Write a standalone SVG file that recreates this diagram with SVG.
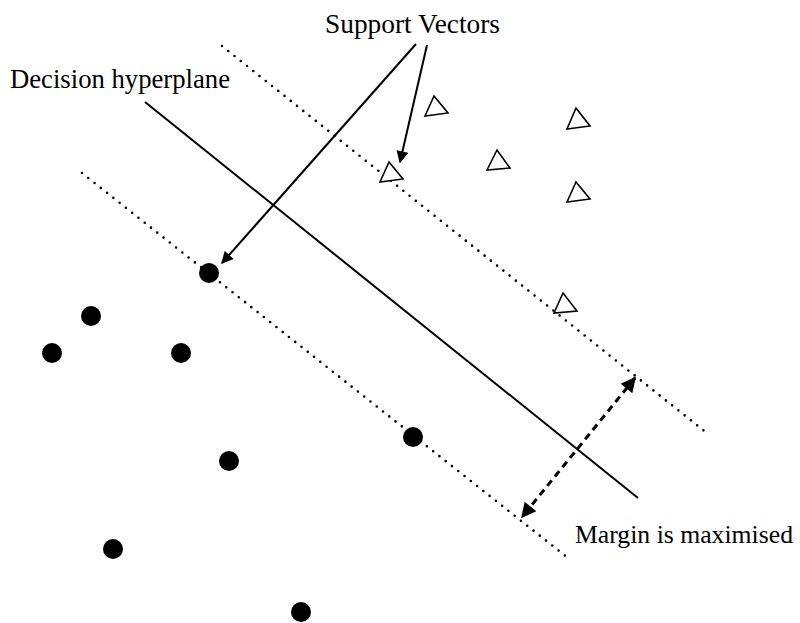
<svg xmlns="http://www.w3.org/2000/svg" width="800" height="623" viewBox="0 0 800 623">
<style>
.lbl{font-family:"Liberation Serif","DejaVu Serif",serif;font-size:27px;fill:#000}
.dot{fill:#000}
.tri{fill:#fff;stroke:#000;stroke-width:1.6;stroke-linejoin:miter}
.dotted{stroke:#000;stroke-width:2.6;stroke-dasharray:0 8;stroke-linecap:round;fill:none}
.solid{stroke:#000;stroke-width:2;fill:none}
.dashed{stroke:#000;stroke-width:3;stroke-dasharray:7 5;fill:none}
</style>
<defs>
<marker id="ah2" viewBox="0 0 10 10" refX="9" refY="5" markerWidth="6.5" markerHeight="6" orient="auto-start-reverse">
<path d="M0,0 L10,5 L0,10 z" fill="#000"/>
</marker>
<marker id="ah3" viewBox="0 0 10 10" refX="9" refY="5" markerWidth="5.5" markerHeight="5" orient="auto-start-reverse">
<path d="M0,0 L10,5 L0,10 z" fill="#000"/>
</marker>
</defs>
<rect width="800" height="623" fill="#fff"/>
<g id="connectors">
<line class="dotted" x1="222" y1="46" x2="708" y2="434"/>
<line class="dotted" x1="82" y1="173" x2="568" y2="558"/>
<line class="solid" x1="145" y1="102" x2="638" y2="498"/>
<line class="solid" x1="416" y1="44" x2="222" y2="263" marker-end="url(#ah2)"/>
<line class="solid" x1="427" y1="45" x2="400" y2="162" marker-end="url(#ah2)"/>
<line class="dashed" x1="635" y1="378" x2="522" y2="517" marker-start="url(#ah3)" marker-end="url(#ah3)"/>
</g>
<g id="class-circles">
<circle class="dot" cx="209" cy="273" r="10"/>
<circle class="dot" cx="91" cy="316" r="10"/>
<circle class="dot" cx="52" cy="353" r="10"/>
<circle class="dot" cx="181" cy="353" r="10"/>
<circle class="dot" cx="413" cy="437" r="10"/>
<circle class="dot" cx="229" cy="461" r="10"/>
<circle class="dot" cx="113" cy="549" r="10"/>
<circle class="dot" cx="301" cy="612" r="10"/>
</g>
<g id="class-triangles">
<polygon class="tri" points="434,96 425,116 448,113"/>
<polygon class="tri" points="576,108 567,129 590,126"/>
<polygon class="tri" points="497,150 487,170 510,168"/>
<polygon class="tri" points="576,182 567,202 590,199"/>
<polygon class="tri" points="389,162 380,182 403,179"/>
<polygon class="tri" points="563,293 554,313 577,311"/>
</g>
<g id="label-support">
<text class="lbl" x="325" y="33" textLength="175" lengthAdjust="spacingAndGlyphs">Support Vectors</text>
</g>
<g id="label-decision">
<text class="lbl" x="10" y="88" textLength="220" lengthAdjust="spacingAndGlyphs">Decision hyperplane</text>
</g>
<g id="label-margin">
<text class="lbl" x="575" y="543" style="font-size:25.5px" textLength="218" lengthAdjust="spacingAndGlyphs">Margin is maximised</text>
</g>
</svg>
